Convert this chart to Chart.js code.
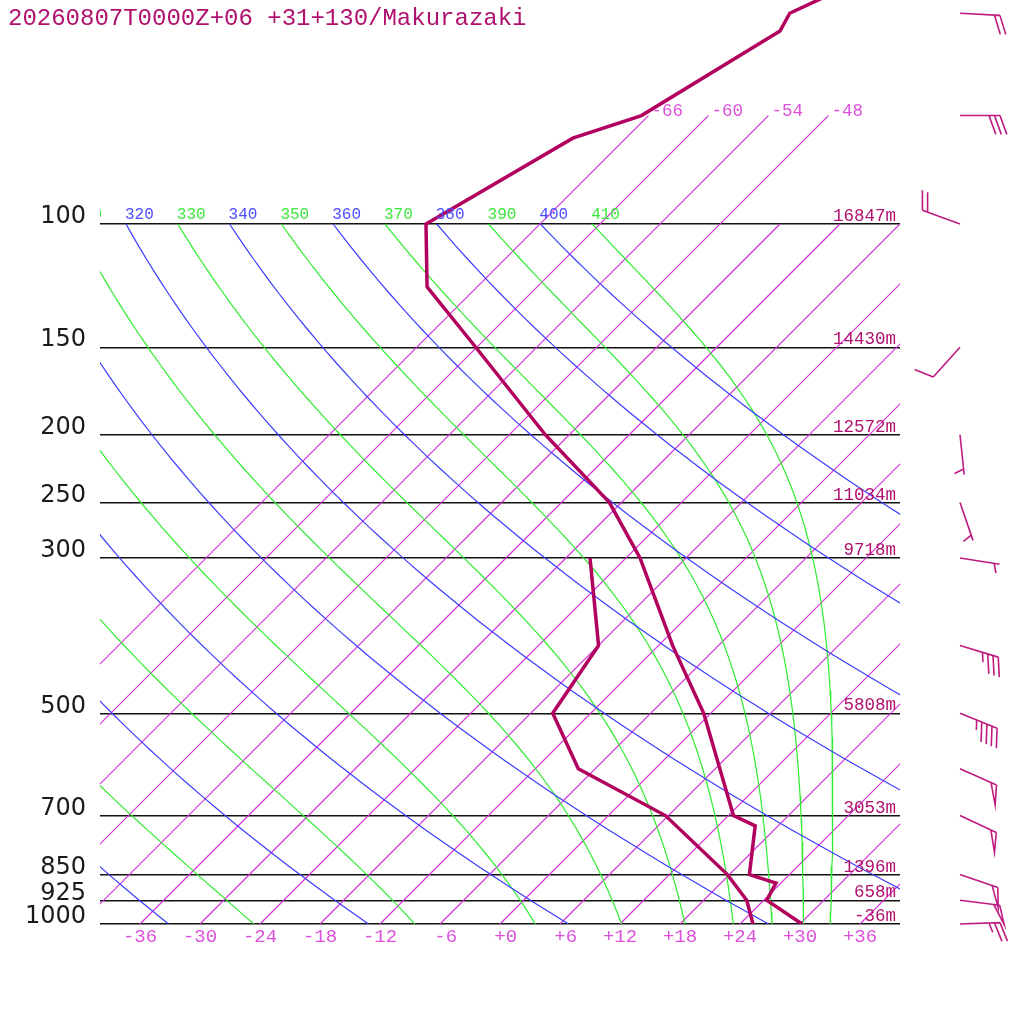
<!DOCTYPE html>
<html>
<head>
<meta charset="utf-8">
<script src="https://cdn.jsdelivr.net/npm/chart.js@4.4.1/dist/chart.umd.min.js"></script>
<style>
  html, body { margin: 0; padding: 0; background: #fff; }
  canvas { display: block; }
</style>
</head>
<body>
<canvas id="skewt" width="1024" height="1024"></canvas>
<script>
// Sounding values
const title = "20260807T0000Z+06 +31+130/Makurazaki";
const tempP = [46, 50, 53, 70, 75.4, 100, 123, 150, 200, 250, 300, 400, 500, 700, 724, 850, 874, 925, 1000];
const tempC = [-59.2, -62.1, -61.3, -66.7, -71.3, -77.4, -71.0, -60.1, -44.4, -31.2, -22.6, -10.6, -0.7, 12.5, 15.7, 20.0, 23.5, 24.3, 30.2];
const dewP = [300, 400, 500, 600, 700, 850, 925, 1000];
const dewC = [-27.6, -18.0, -15.8, -7.7, 5.7, 17.8, 22.3, 25.3];

// Mandatory levels and their heights
const levelP = [100, 150, 200, 250, 300, 500, 700, 850, 925, 1000];
const levelHeight = ["16847m", "14430m", "12572m", "11034m", "9718m", "5808m", "3053m", "1396m", "658m", "-36m"];

// Wind barbs
const windP = [50, 70, 100, 150, 200, 250, 300, 400, 500, 600, 700, 850, 925, 1000];
const windDir = [93, 90, 290, 222, 174, 161, 99, 107, 112, 114, 115, 109, 97, 88];
const windKt = [20, 30, 20, 10, 5, 5, 5, 35, 45, 50, 50, 50, 50, 25];

// Diagram background lines
const tempTicks = [-36, -30, -24, -18, -12, -6, 0, 6, 12, 18, 24, 30, 36];
const isotherms = [-66, -60, -54, -48, -42, -36, -30, -24, -18, -12, -6, 0, 6, 12, 18, 24, 30, 36];
const upperIsotherms = [-66, -60, -54, -48];
const dryTheta = [240, 260, 280, 300, 320, 340, 360, 380, 400];
const moistTheta = [250, 270, 290, 310, 330, 350, 370, 390, 410];

const SKEW = 70;          // degrees of shift per decade of pressure
const P_TOP = 1000 / Math.pow(10, 924 / 700);
const KAPPA = 0.2857;

const profileColor = "#b2005f";
const isoColor = "#d62ed6";
const dryColor = "#3c3cff";
const moistColor = "#30ec30";

function skewX(t, p) {
  return t + SKEW * Math.log10(1000 / p);
}

function line(points, color, width, order) {
  return {
    data: points,
    borderColor: color,
    borderWidth: width,
    showLine: true,
    pointRadius: 0,
    fill: false,
    tension: 0,
    order: order,
  };
}

function dryAdiabat(theta) {
  const pts = [];
  for (let i = 0; i <= 60; i++) {
    const p = 1000 * Math.pow(10, -i / 60);
    const t = theta * Math.pow(p / 1000, KAPPA) - 273.15;
    pts.push({ x: skewX(t, p), y: p });
  }
  return pts;
}

// pseudo-adiabat, integrated down from 100 hPa where it is labelled
function moistAdiabat(theta) {
  const Rd = 287.04, cp = 1005.7, Lv = 2.501e6, eps = 0.622;
  const rate = (T, p) => {
    const es = 6.112 * Math.exp((17.67 * (T - 273.15)) / (T - 29.65));
    const rs = (eps * es) / (p - es);
    return (Rd * T + Lv * rs) / (cp + (Lv * Lv * rs * eps) / (Rd * T * T));
  };
  let lp = Math.log(100);
  let T = theta * Math.pow(0.1, KAPPA);
  const pts = [{ x: skewX(T - 273.15, 100), y: 100 }];
  const n = 240;
  const h = Math.log(10) / n;
  for (let i = 0; i < n; i++) {
    const k1 = rate(T, Math.exp(lp));
    const k2 = rate(T + (h / 2) * k1, Math.exp(lp + h / 2));
    const k3 = rate(T + (h / 2) * k2, Math.exp(lp + h / 2));
    const k4 = rate(T + h * k3, Math.exp(lp + h));
    T += (h / 6) * (k1 + 2 * k2 + 2 * k3 + k4);
    lp += h;
    if (i % 4 === 3) {
      const p = Math.exp(lp);
      pts.push({ x: skewX(T - 273.15, p), y: p });
    }
  }
  return pts;
}

function fmtTemp(v) {
  const s = (v < 0 ? "-" : "+") + Math.abs(v);
  return s.padStart(3, " ");
}

const datasets = [];
datasets.push(line(tempP.map((p, i) => ({ x: skewX(tempC[i], p), y: p })), profileColor, 3.5, 0));
datasets.push(line(dewP.map((p, i) => ({ x: skewX(dewC[i], p), y: p })), profileColor, 3.5, 0));
isotherms.forEach((t) => {
  const top = upperIsotherms.includes(t) ? 70 : 100;
  datasets.push(line([{ x: skewX(t, 1000), y: 1000 }, { x: skewX(t, top), y: top }], isoColor, 1.2, 3));
});
dryTheta.forEach((th) => datasets.push(line(dryAdiabat(th), dryColor, 1.2, 2)));
moistTheta.forEach((th) => datasets.push(line(moistAdiabat(th), moistColor, 1.2, 2)));

function drawBarb(ctx, x0, y0, dir, kt) {
  const a = (dir * Math.PI) / 180;
  const ux = Math.sin(a), uy = -Math.cos(a);
  const L = 40;
  const tx = x0 + ux * L, ty = y0 + uy * L;
  const fa = Math.atan2(uy, ux) + (70 * Math.PI) / 180;
  const fx = Math.cos(fa), fy = Math.sin(fa);
  const step = 5.5;
  ctx.beginPath();
  ctx.moveTo(x0, y0);
  ctx.lineTo(tx, ty);
  let rest = Math.round(kt / 5) * 5;
  let pos = rest < 10 ? step : 0;
  while (rest >= 50) {
    const bx = tx - ux * pos, by = ty - uy * pos;
    ctx.moveTo(bx - ux * 6, by - uy * 6);
    ctx.lineTo(bx + fx * 20, by + fy * 20);
    ctx.lineTo(bx, by);
    pos += 7;
    rest -= 50;
  }
  while (rest >= 10) {
    const bx = tx - ux * pos, by = ty - uy * pos;
    ctx.moveTo(bx, by);
    ctx.lineTo(bx + fx * 20, by + fy * 20);
    pos += step;
    rest -= 10;
  }
  if (rest >= 5) {
    const bx = tx - ux * pos, by = ty - uy * pos;
    ctx.moveTo(bx, by);
    ctx.lineTo(bx + fx * 10, by + fy * 10);
  }
  ctx.stroke();
}

// Texts and wind barbs that sit on top of the diagram
const overlay = {
  id: "overlay",
  afterDraw(chart) {
    const ctx = chart.ctx;
    const xs = chart.scales.x;
    const ys = chart.scales.y;
    const area = chart.chartArea;
    ctx.save();
    ctx.textBaseline = "alphabetic";

    ctx.fillStyle = "#b0106e";
    ctx.font = "24px 'Liberation Mono'";
    ctx.textAlign = "left";
    ctx.fillText(title, 8, 25);

    // heights on the right end of each level
    ctx.font = "17.5px 'Liberation Mono'";
    ctx.textAlign = "right";
    ctx.fillStyle = "#b0106e";
    levelP.forEach((p, i) => {
      ctx.fillText(levelHeight[i], 896, ys.getPixelForValue(p) - 3);
    });

    // isotherm labels above 100 hPa
    ctx.textAlign = "left";
    ctx.fillStyle = "#dc50dc";
    upperIsotherms.forEach((t) => {
      const x = xs.getPixelForValue(skewX(t, 70));
      const y = ys.getPixelForValue(70);
      ctx.fillText(String(t), x + 3, y);
    });

    // adiabat labels at 100 hPa
    ctx.save();
    ctx.beginPath();
    ctx.rect(area.left, area.top, area.right - area.left, area.bottom - area.top);
    ctx.clip();
    ctx.font = "16px 'Liberation Mono'";
    const y100 = ys.getPixelForValue(100) - 5;
    const thetaLabels = dryTheta.map((th) => [th, "#4c4cff"]).concat(moistTheta.map((th) => [th, "#3ee83e"]));
    thetaLabels.forEach(([th, col]) => {
      const t = th * Math.pow(0.1, KAPPA) - 273.15;
      const x = xs.getPixelForValue(skewX(t, 100));
      if (x > area.right - 10) return;
      ctx.fillStyle = col;
      ctx.fillText(String(th), x - 1, y100);
    });
    ctx.restore();

    // wind barbs
    ctx.strokeStyle = "#bf1a7f";
    ctx.lineWidth = 1.6;
    windP.forEach((p, i) => {
      drawBarb(ctx, 960, ys.getPixelForValue(p), windDir[i], windKt[i]);
    });
    ctx.restore();
  },
};

new Chart(document.getElementById("skewt"), {
  type: "scatter",
  data: { datasets: datasets },
  plugins: [overlay],
  options: {
    responsive: false,
    animation: false,
    events: [],
    layout: { padding: { left: 0, right: 124, top: 0, bottom: 0 } },
    plugins: { legend: { display: false }, tooltip: { enabled: false } },
    scales: {
      x: {
        type: "linear",
        min: -40,
        max: 40,
        afterBuildTicks: (s) => {
          s.ticks = tempTicks.map((v) => ({ value: v }));
        },
        afterFit: (s) => {
          s.height = 100;
          s.paddingLeft = 0;
          s.paddingRight = 0;
        },
        grid: { display: false },
        border: { display: false },
        ticks: {
          callback: (v) => fmtTemp(v),
          font: { family: "Liberation Mono", size: 19 },
          color: "#dc50dc",
          padding: -6,
          maxRotation: 0,
          autoSkip: false,
        },
      },
      y: {
        type: "logarithmic",
        reverse: true,
        min: P_TOP,
        max: 1000,
        afterBuildTicks: (s) => {
          s.ticks = levelP.map((v) => ({ value: v }));
        },
        afterFit: (s) => {
          s.width = 100;
          s.paddingTop = 0;
          s.paddingBottom = 0;
        },
        grid: { color: "#111", lineWidth: 1.4, drawTicks: false },
        border: { display: false },
        ticks: {
          callback: (v) => String(v),
          font: { family: "DejaVu Sans", size: 24 },
          color: "#1a1a1a",
          padding: 14,
          labelOffset: -7,
          autoSkip: false,
        },
      },
    },
  },
});
</script>
</body>
</html>
